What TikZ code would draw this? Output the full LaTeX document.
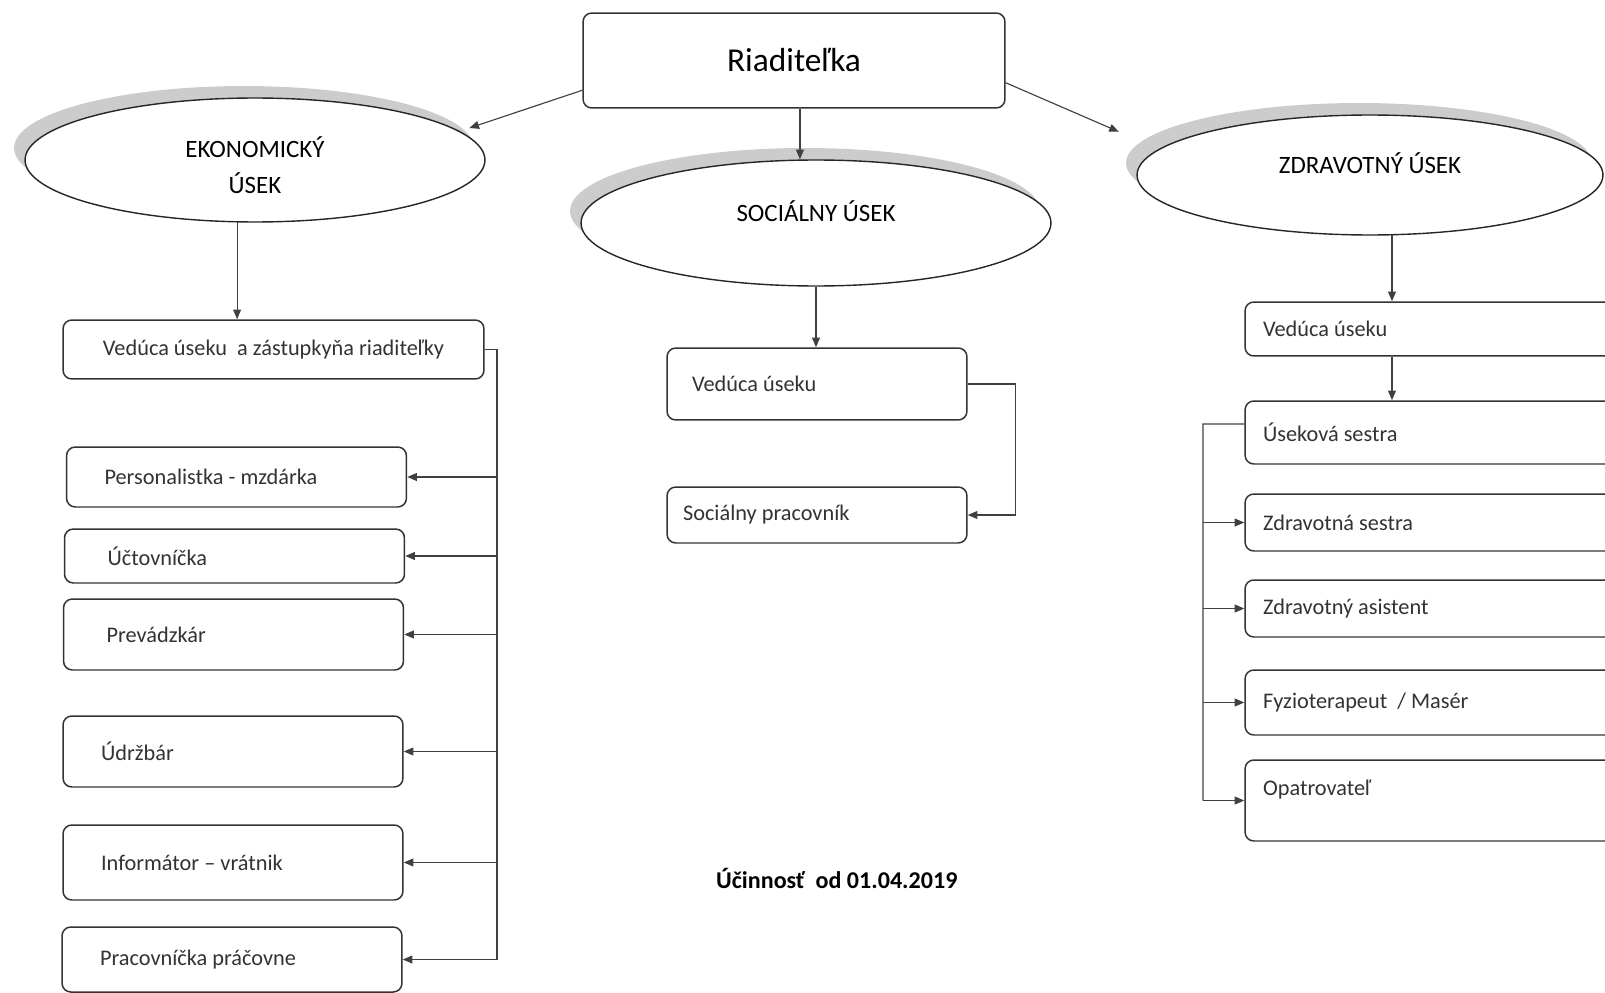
\documentclass[tikz,border=0pt]{standalone}
\usepackage{fontspec}
\setmainfont{Carlito}
\usetikzlibrary{arrows.meta,shapes.geometric,shadows}

\begin{document}
\begin{tikzpicture}[x=0.02cm,y=-0.02cm,>={Triangle[length=5.5pt,width=4.5pt]},
  box/.style={draw=black!80,line width=0.85pt,rounded corners=5pt,fill=white,inner ysep=0pt,
    font=\fontsize{12.7}{15}\selectfont,text=black!80},
  lbox/.style={box,align=flush left,text width=5.28cm,inner xsep=0.76cm},
  rbox/.style={box,align=flush left,text width=7.18cm,inner xsep=0.36cm},
  oval/.style={ellipse,draw=black!85,line width=0.8pt,fill=white,inner sep=0pt,
    font=\fontsize{14.2}{21}\selectfont,
    drop shadow={shadow xshift=-0.22cm,shadow yshift=0.24cm,fill=black!20,opacity=1}},
  conn/.style={draw=black!75,line width=0.65pt},
  arr/.style={conn,->}]
  \useasboundingbox (0,0) rectangle (1605,993);
  \clip (0,0) rectangle (1605,993);

  \node[box,minimum width=8.44cm,minimum height=1.9cm,
    font=\fontsize{19}{22}\selectfont,text=black] (dir) at (794,60.5) {Riaditeľka};

  \node[oval,minimum width=9.2cm,minimum height=2.48cm,text height=21.4pt,text depth=5pt] (ek) at (255,160)
    {\begin{tabular}{@{}c@{}}EKONOMICKÝ\\ÚSEK\end{tabular}};
  \node[oval,minimum width=9.4cm,minimum height=2.52cm,text height=10pt,text depth=12.2pt] (soc) at (816,223) {SOCIÁLNY ÚSEK};
  \node[oval,minimum width=9.32cm,minimum height=2.4cm,text height=10pt,text depth=12.2pt] (zdr) at (1370,175) {ZDRAVOTNÝ ÚSEK};

  % ekonomicky usek
  \node[box,minimum width=8.42cm,minimum height=1.18cm] (vz) at (273.5,349.5) {Vedúca úseku\ \ a zástupkyňa riaditeľky};
  \node[lbox,minimum height=1.2cm] (pers) at (236.5,477) {Personalistka - mzdárka};
  \node[lbox,minimum height=1.08cm] (uct) at (234.5,556) {\ Účtovníčka};
  \node[lbox,minimum height=1.42cm] (prev) at (233.5,634.5) {\ Prevádzkár};
  \node[lbox,minimum height=1.42cm] (udr) at (233,751.5) {Údržbár};
  \node[lbox,minimum height=1.5cm] (info) at (233,862.5) {Informátor – vrátnik};
  \node[lbox,minimum height=1.3cm] (prac) at (232,959.5) {Pracovníčka práčovne};

  % socialny usek
  \node[box,align=flush left,text width=5cm,inner xsep=0.5cm,minimum height=1.44cm] (sv) at (817,384) {Vedúca úseku};
  \node[box,align=flush left,text width=5.36cm,inner xsep=0.32cm,minimum height=1.12cm] (sp) at (817,515) {Sociálny pracovník};

  % zdravotny usek
  \node[rbox,minimum height=1.08cm] (zv) at (1442.5,329) {Vedúca úseku};
  \node[rbox,minimum height=1.26cm] (us) at (1442.5,432.5) {Úseková sestra};
  \node[rbox,minimum height=1.14cm] (zs) at (1442.5,522.5) {Zdravotná sestra};
  \node[rbox,minimum height=1.14cm] (za) at (1442.5,608.5) {Zdravotný asistent};
  \node[rbox,minimum height=1.3cm] (fy) at (1442.5,702.5) {Fyzioterapeut\ \ / Masér};
  \node[rbox,minimum height=1.62cm] (op) at (1442.5,800.5) {Opatrovateľ\\\mbox{}};

  \node[anchor=west,font=\bfseries\fontsize{13.7}{17}\selectfont] (ucin) at (710,878) {Účinnosť\ \ od 01.04.2019};

  \draw[arr,shorten >=0.2cm] (dir.188) -- (ek.8);
  \draw[arr] (dir.277) -- (dir.277 |- soc.north);
  \draw[arr,shorten >=0.87cm] (dir.354) -- (zdr.173);

  \draw[arr] (ek.254) -- (ek.254 |- vz.north);
  \coordinate (ekbus) at (497,349.5);
  \draw[conn] (vz.east) -- (ekbus) -- (ekbus |- prac.east);
  \foreach \n in {pers,uct,prev,udr,info,prac}
    \draw[arr] (ekbus |- \n.east) -- (\n.east);

  \draw[arr] (soc.south) -- (soc.south |- sv.north);
  \draw[arr] (sv.east) -- ++(48,0) |- (sp.east);

  \draw[arr] (zdr.290) -- (zdr.290 |- zv.north);
  \draw[arr] (zdr.290 |- zv.south) -- (zdr.290 |- us.north);
  \coordinate (zbus) at (1203,424);
  \draw[conn] ([yshift=0.17cm]us.west) -- (zbus) -- (zbus |- op.west);
  \foreach \n in {zs,za,fy,op}
    \draw[arr] (zbus |- \n.west) -- (\n.west);
\end{tikzpicture}
\end{document}
